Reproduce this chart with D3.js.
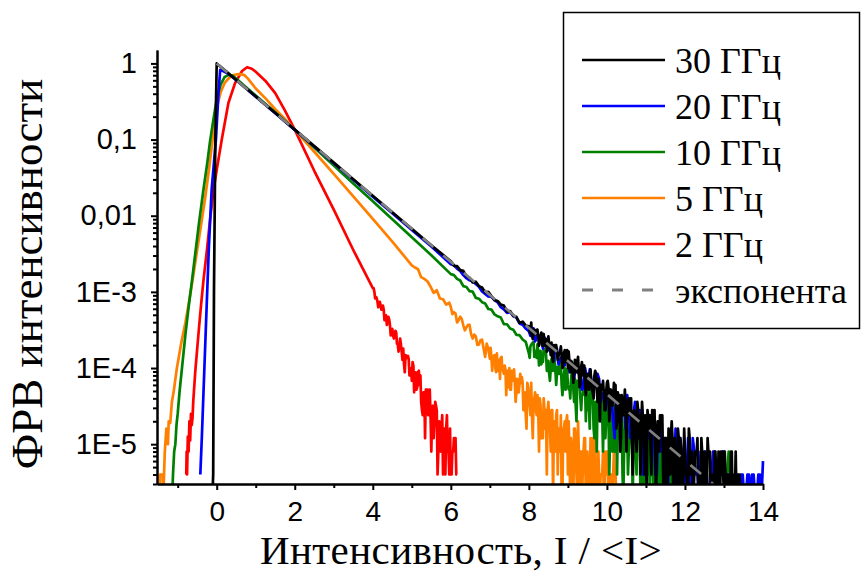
<!DOCTYPE html>
<html>
<head>
    <meta charset="utf-8">
    <title>ФРВ интенсивности</title>
    <style>
    body { margin: 0; background: #fff }
    .axis text { font-family: "Liberation Sans", Arial, sans-serif; fill: #000 }
    .axis path, .axis line { stroke: #000; stroke-width: 2 }
    .title { font-family: "Liberation Serif", "Times New Roman", serif; fill: #000 }
    .legend text { font: 36px "Liberation Serif", "Times New Roman", serif; fill: #000 }
    .curve { fill: none; stroke-width: 2.7; stroke-linejoin: round }
    </style>
</head>

<body>
    <script src="https://cdn.jsdelivr.net/npm/d3@7/dist/d3.min.js"></script>
    <script>

    // legend labels, in the order of the legend
    var names = ['30 ГГц', '20 ГГц', '10 ГГц', '5 ГГц', '2 ГГц', 'экспонента']

    // [I/<I>, pdf]; 0 = empty bin
    var pdf30 = [[-0.11, 0], [-0.09, 4e-6], [-0.07, 1e-3], [-0.035, 0.1], [0, 1],
        [0.25, 0.78], [0.5, 0.607], [0.75, 0.472], [1, 0.368], [1.5, 0.223], [2, 0.135], [2.5, 0.082],
        [3, 0.0498], [3.5, 0.0302], [4, 0.0183], [4.5, 0.0111], [5, 6.74e-3], [5.5, 4.09e-3],
        [6.00, 2.53e-3], [6.08, 2.20e-3], [6.16, 2.18e-3], [6.24, 1.93e-3], [6.32, 1.89e-3], [6.40, 1.61e-3],
        [6.48, 1.53e-3], [6.56, 1.33e-3], [6.64, 1.36e-3], [6.72, 1.19e-3], [6.80, 1.14e-3], [6.88, 9.8e-4],
        [6.96, 1.0e-3], [7.04, 8.8e-4], [7.12, 7.8e-4], [7.20, 7.6e-4], [7.28, 6.8e-4], [7.36, 6.6e-4],
        [7.44, 5.5e-4], [7.52, 5.6e-4], [7.60, 4.85e-4], [7.68, 4.7e-4], [7.76, 3.93e-4], [7.84, 4.06e-4],
        [7.92, 3.6e-4],
        [8.00, 3.52e-4], [8.02, 3.08e-4], [8.04, 2.88e-4], [8.06, 3.96e-4], [8.08, 2.68e-4], [8.10, 2.4e-4],
        [8.12, 3.16e-4], [8.14, 3.2e-4], [8.16, 3.08e-4], [8.18, 2.76e-4], [8.20, 3.16e-4], [8.22, 3.2e-4],
        [8.24, 2.56e-4], [8.26, 1.96e-4], [8.28, 2.44e-4], [8.30, 2.64e-4], [8.32, 2.92e-4], [8.34, 2.04e-4],
        [8.36, 1.96e-4], [8.38, 2.8e-4], [8.40, 2.0e-4], [8.42, 1.96e-4], [8.44, 2.4e-4], [8.46, 1.64e-4],
        [8.48, 2.12e-4], [8.50, 2.6e-4], [8.52, 2.04e-4], [8.54, 1.88e-4], [8.56, 1.48e-4], [8.58, 2.16e-4],
        [8.60, 1.36e-4], [8.62, 1.2e-4], [8.64, 2.0e-4], [8.66, 1.88e-4], [8.68, 2.0e-4], [8.70, 2e-4],
        [8.72, 1.6e-4], [8.74, 1.28e-4], [8.76, 1.44e-4], [8.78, 1.56e-4], [8.80, 1.64e-4], [8.82, 1.92e-4],
        [8.84, 1.48e-4], [8.86, 1e-4], [8.88, 1.08e-4], [8.90, 1.56e-4], [8.92, 1.72e-4], [8.94, 1.2e-4],
        [8.96, 1.56e-4], [8.98, 1.72e-4], [9.00, 1.0e-4], [9.02, 1.64e-4], [9.04, 1.2e-4], [9.06, 8.8e-5],
        [9.08, 1.24e-4], [9.10, 1.2e-4], [9.12, 9.2e-5], [9.14, 6.4e-5], [9.16, 9.2e-5], [9.18, 1.28e-4],
        [9.20, 1.16e-4], [9.22, 8.8e-5], [9.24, 1.2e-4], [9.26, 1.4e-4], [9.28, 8.4e-5], [9.30, 5.6e-5],
        [9.32, 6e-5], [9.34, 1.04e-4], [9.36, 1.2e-4], [9.38, 8e-5], [9.40, 9.6e-5], [9.42, 1.08e-4],
        [9.44, 6e-5], [9.46, 4.4e-5], [9.48, 7.2e-5], [9.50, 8.4e-5], [9.52, 7.6e-5], [9.54, 5.2e-5],
        [9.56, 8.4e-5], [9.58, 9.6e-5], [9.60, 6e-5], [9.62, 5.2e-5], [9.64, 4.8e-5], [9.66, 4e-5],
        [9.68, 8e-5], [9.70, 9.2e-5], [9.72, 8.4e-5], [9.74, 5.6e-5], [9.76, 3.6e-5], [9.78, 7.2e-5],
        [9.80, 4.8e-5], [9.82, 2e-5], [9.84, 6e-5], [9.86, 6e-5], [9.88, 5.2e-5], [9.90, 6.8e-5],
        [9.92, 4.8e-5], [9.94, 2.8e-5], [9.96, 2.8e-5], [9.98, 4.8e-5], [10.00, 6.4e-5], [10.02, 6.8e-5],
        [10.04, 5.6e-5], [10.06, 2e-5], [10.08, 2.8e-5], [10.10, 5.2e-5], [10.12, 3.2e-5], [10.14, 3.2e-5],
        [10.16, 4e-5], [10.18, 6.4e-5], [10.20, 4.4e-5], [10.22, 6e-5], [10.24, 1.6e-5], [10.26, 2e-5],
        [10.28, 4.8e-5], [10.30, 3.6e-5], [10.32, 4.4e-5], [10.34, 8e-6], [10.36, 1.2e-5], [10.38, 4.4e-5],
        [10.40, 2.4e-5], [10.42, 2.4e-5], [10.44, 3.2e-5], [10.46, 5.2e-5], [10.48, 3.2e-5], [10.50, 8e-6],
        [10.52, 2e-5], [10.54, 3.6e-5], [10.56, 4e-5], [10.58, 2.4e-5], [10.60, 4e-5], [10.62, 4e-5],
        [10.64, 1.2e-5], [10.66, 4e-6], [10.68, 2.4e-5], [10.70, 2.8e-5], [10.72, 2e-5], [10.74, 1.2e-5],
        [10.76, 8e-6], [10.78, 3.6e-5], [10.80, 2.8e-5], [10.82, 1.2e-5], [10.84, 2.4e-5], [10.86, 4e-6],
        [10.88, 1.6e-5], [10.90, 3.6e-5], [10.92, 2.4e-5], [10.94, 1.6e-5], [10.96, 4e-6], [10.98, 2.4e-5],
        [11.00, 8e-6], [11.02, 0], [11.04, 2.8e-5], [11.06, 2e-5], [11.08, 1.6e-5], [11.10, 2.4e-5],
        [11.12, 8e-6], [11.14, 4e-6], [11.16, 2.8e-5], [11.18, 1.6e-5], [11.20, 1.6e-5], [11.22, 2.8e-5],
        [11.24, 8e-6], [11.26, 0], [11.28, 1.2e-5], [11.30, 2e-5], [11.32, 1.6e-5], [11.34, 8e-6],
        [11.36, 2.4e-5], [11.38, 2.4e-5], [11.40, 2e-5], [11.42, 2.4e-5], [11.44, 4e-6], [11.46, 0],
        [11.48, 8e-6], [11.50, 1.2e-5], [11.52, 1.2e-5], [11.54, 0], [11.56, 4e-6], [11.58, 1.6e-5],
        [11.60, 4e-6], [11.62, 4e-6], [11.64, 1.2e-5], [11.66, 2e-5], [11.68, 1.2e-5], [11.70, 0],
        [11.72, 8e-6], [11.74, 1.2e-5], [11.76, 0], [11.78, 8e-6], [11.80, 0], [11.82, 1.6e-5],
        [11.84, 1.2e-5], [11.86, 0], [11.88, 1.2e-5], [11.90, 8e-6], [11.92, 4e-6], [11.94, 0],
        [11.96, 4e-6], [11.98, 1.6e-5], [12.00, 8e-6], [12.02, 4e-6], [12.04, 4e-6], [12.06, 0],
        [12.08, 0], [12.10, 1.6e-5], [12.12, 1.2e-5], [12.14, 4e-6], [12.16, 8e-6], [12.18, 8e-6],
        [12.20, 0], [12.22, 0], [12.24, 4e-6], [12.26, 8e-6], [12.28, 8e-6], [12.30, 8e-6],
        [12.32, 1.2e-5], [12.34, 0], [12.36, 4e-6], [12.38, 4e-6], [12.40, 0], [12.42, 1.2e-5],
        [12.44, 8e-6], [12.46, 0], [12.48, 4e-6], [12.50, 8e-6], [12.52, 0], [12.54, 0],
        [12.56, 0], [12.58, 1.2e-5], [12.60, 8e-6], [12.62, 8e-6], [12.64, 8e-6], [12.66, 0],
        [12.68, 4e-6], [12.70, 4e-6], [12.72, 4e-6], [12.74, 0], [12.76, 8e-6], [12.78, 8e-6],
        [12.80, 4e-6], [12.82, 0], [12.84, 0], [12.86, 8e-6], [12.88, 0], [12.90, 0],
        [12.92, 8e-6], [12.94, 4e-6], [12.96, 8e-6], [12.98, 4e-6], [13.00, 0], [13.02, 8e-6],
        [13.04, 4e-6], [13.06, 0], [13.08, 4e-6], [13.10, 4e-6], [13.12, 0], [13.14, 0],
        [13.16, 0], [13.18, 8e-6], [13.20, 8e-6], [13.22, 0], [13.24, 4e-6], [13.26, 0],
        [13.28, 0], [13.30, 8e-6], [13.32, 0], [13.34, 0], [13.36, 4e-6], [13.38, 4e-6],
        [13.40, 4e-6], [13.42, 0], [13.44, 0]]

    var pdf20 = [[-0.42, 4e-6], [-0.38, 1.26e-5], [-0.33, 6.3e-5], [-0.28, 3.16e-4], [-0.24, 1.12e-3],
        [-0.2, 3.98e-3], [-0.13, 0.0219], [-0.02, 0.1], [0.05, 0.447], [0.09, 0.822], [0.15, 0.80],
        [0.3, 0.73], [0.6, 0.545], [1, 0.366], [1.5, 0.222], [2, 0.134], [2.5, 0.081], [3, 0.049],
        [3.5, 0.0296], [4, 0.0178], [4.5, 0.0108], [5, 6.5e-3], [5.5, 3.95e-3],
        [6.00, 2.30e-3], [6.08, 2.24e-3], [6.16, 2.02e-3], [6.24, 1.88e-3], [6.32, 1.66e-3], [6.40, 1.51e-3],
        [6.48, 1.42e-3], [6.56, 1.38e-3], [6.64, 1.27e-3], [6.72, 1.17e-3], [6.80, 1.01e-3], [6.88, 9.4e-4],
        [6.96, 8.7e-4], [7.04, 8.6e-4], [7.12, 7.8e-4], [7.20, 7.3e-4], [7.28, 6.3e-4], [7.36, 5.9e-4],
        [7.44, 5.3e-4], [7.52, 5.4e-4], [7.60, 4.8e-4], [7.68, 4.6e-4], [7.76, 3.85e-4], [7.84, 3.7e-4],
        [7.92, 3.3e-4],
        [8.00, 3.04e-4], [8.04, 2.64e-4], [8.08, 3.28e-4], [8.12, 3.32e-4], [8.16, 2.24e-4], [8.20, 2.48e-4],
        [8.24, 2.72e-4], [8.28, 2.48e-4], [8.32, 2.28e-4], [8.36, 1.8e-4], [8.40, 2.52e-4], [8.44, 2.32e-4],
        [8.48, 1.72e-4], [8.52, 1.72e-4], [8.56, 1.88e-4], [8.60, 1.88e-4], [8.64, 1.24e-4], [8.68, 1.92e-4],
        [8.72, 1.8e-4], [8.76, 1.12e-4], [8.80, 1.28e-4], [8.84, 1.4e-4], [8.88, 1.4e-4], [8.92, 1.08e-4],
        [8.96, 1.56e-4], [9.00, 1.52e-4], [9.04, 8.8e-5], [9.08, 1.04e-4], [9.12, 1.04e-4], [9.16, 7.2e-5],
        [9.20, 1.08e-4], [9.24, 1.04e-4], [9.28, 8.4e-5], [9.32, 1e-4], [9.36, 5.2e-5], [9.40, 5.6e-5],
        [9.44, 1e-4], [9.48, 7.6e-5], [9.52, 5.6e-5], [9.56, 9.6e-5], [9.60, 7.2e-5], [9.64, 4.8e-5],
        [9.68, 5.6e-5], [9.72, 6.4e-5], [9.76, 8.4e-5], [9.80, 7.2e-5], [9.84, 3.6e-5], [9.88, 4.4e-5],
        [9.92, 4.8e-5], [9.96, 2.8e-5], [10.00, 3.6e-5], [10.04, 5.2e-5], [10.08, 5.2e-5], [10.12, 4e-5],
        [10.16, 2e-5], [10.20, 1.2e-5], [10.24, 4.8e-5], [10.28, 4.4e-5], [10.32, 2.8e-5], [10.36, 2.4e-5],
        [10.40, 3.2e-5], [10.44, 2.8e-5], [10.48, 1.6e-5], [10.52, 4.4e-5], [10.56, 3.2e-5], [10.60, 1.2e-5],
        [10.64, 2e-5], [10.68, 2.4e-5], [10.72, 3.6e-5], [10.76, 1.6e-5], [10.80, 1.2e-5], [10.84, 2.8e-5],
        [10.88, 2e-5], [10.92, 4e-6], [10.96, 4e-6], [11.00, 2e-5], [11.04, 2e-5], [11.08, 1.2e-5],
        [11.12, 1.2e-5], [11.16, 2e-5], [11.20, 1.6e-5], [11.24, 4e-6], [11.28, 4e-6], [11.32, 2e-5],
        [11.36, 2e-5], [11.40, 8e-6], [11.44, 1.2e-5], [11.48, 1.2e-5], [11.52, 4e-6], [11.56, 0],
        [11.60, 1.2e-5], [11.64, 1.6e-5], [11.68, 8e-6], [11.72, 4e-6], [11.76, 1.6e-5], [11.80, 8e-6],
        [11.84, 0], [11.88, 1.2e-5], [11.92, 8e-6], [11.96, 0], [12.00, 4e-6], [12.04, 4e-6],
        [12.08, 1.2e-5], [12.12, 0], [12.16, 0], [12.20, 1.2e-5], [12.24, 8e-6], [12.28, 4e-6],
        [12.32, 4e-6], [12.36, 0], [12.40, 8e-6], [12.44, 8e-6], [12.48, 0], [12.52, 8e-6],
        [12.56, 4e-6], [12.60, 0], [12.64, 0], [12.68, 4e-6], [12.72, 8e-6], [12.76, 8e-6],
        [12.80, 0], [12.84, 0], [12.88, 4e-6], [12.92, 4e-6], [12.96, 8e-6], [13.00, 8e-6],
        [13.04, 0], [13.08, 0], [13.12, 4e-6], [13.16, 4e-6], [13.20, 4e-6], [13.24, 0],
        [13.28, 0], [13.32, 4e-6], [13.36, 0], [13.40, 0], [13.44, 4e-6], [13.48, 4e-6],
        [13.52, 0], [13.56, 0], [13.60, 4e-6], [13.64, 4e-6], [13.68, 0], [13.72, 4e-6],
        [13.76, 4e-6], [13.80, 0], [13.84, 0], [13.88, 4e-6], [13.92, 4e-6], [13.96, 0], [14.00, 6e-6]]

    var pdf10 = [[-1.14, 0], [-1.12, 4e-6], [-1.09, 8e-6], [-1.06, 1e-5], [-1.03, 1.8e-5], [-1.0, 2.5e-5],
        [-0.95, 5e-5], [-0.89, 1e-4], [-0.8, 2.8e-4], [-0.72, 6.3e-4], [-0.64, 1.32e-3], [-0.55, 3.16e-3],
        [-0.45, 8.3e-3], [-0.34, 0.0219], [-0.24, 0.05], [-0.17, 0.0955], [-0.08, 0.19], [0, 0.339],
        [0.1, 0.525], [0.2, 0.66], [0.3, 0.708], [0.4, 0.692], [0.5, 0.631], [0.7, 0.513], [1, 0.38],
        [1.5, 0.229], [2, 0.135], [2.5, 0.0787], [3, 0.0457], [3.5, 0.0265], [4, 0.01545], [4.5, 8.98e-3],
        [5, 5.22e-3], [5.5, 3.03e-3],
        [6.00, 1.71e-3], [6.08, 1.66e-3], [6.16, 1.48e-3], [6.24, 1.41e-3], [6.32, 1.19e-3], [6.40, 1.16e-3],
        [6.48, 1.02e-3], [6.56, 1.01e-3], [6.64, 8.35e-4], [6.72, 8.14e-4], [6.80, 7.32e-4], [6.88, 7.04e-4],
        [6.96, 5.96e-4], [7.04, 5.86e-4], [7.12, 5.06e-4], [7.20, 4.78e-4], [7.28, 4.61e-4], [7.36, 3.78e-4],
        [7.44, 3.76e-4], [7.52, 3.31e-4], [7.60, 3.19e-4], [7.68, 2.73e-4], [7.76, 2.70e-4], [7.84, 2.37e-4],
        [7.92, 2.21e-4],
        [8.00, 1.56e-4], [8.02, 1.36e-4], [8.04, 1.92e-4], [8.06, 2.04e-4], [8.08, 2.08e-4], [8.10, 2.16e-4],
        [8.12, 2.2e-4], [8.14, 1.4e-4], [8.16, 1.64e-4], [8.18, 1.68e-4], [8.20, 1.36e-4], [8.22, 2.04e-4],
        [8.24, 1.68e-4], [8.26, 1.08e-4], [8.28, 1.56e-4], [8.30, 1.68e-4], [8.32, 1.12e-4], [8.34, 1.28e-4],
        [8.36, 1.2e-4], [8.38, 1.8e-4], [8.40, 1.56e-4], [8.42, 1.68e-4], [8.44, 1.52e-4], [8.46, 9.2e-5],
        [8.48, 1.2e-4], [8.50, 1.24e-4], [8.52, 8.4e-5], [8.54, 6.8e-5], [8.56, 9.6e-5], [8.58, 1.32e-4],
        [8.60, 1.2e-4], [8.62, 9.2e-5], [8.64, 1.16e-4], [8.66, 1.4e-4], [8.68, 9.2e-5], [8.70, 6e-5],
        [8.72, 8.4e-5], [8.74, 1.04e-4], [8.76, 1.04e-4], [8.78, 8.4e-5], [8.80, 1.16e-4], [8.82, 1.08e-4],
        [8.84, 6e-5], [8.86, 4.4e-5], [8.88, 6e-5], [8.90, 8.4e-5], [8.92, 1e-4], [8.94, 5.2e-5],
        [8.96, 7.6e-5], [8.98, 9.6e-5], [9.00, 6e-5], [9.02, 5.2e-5], [9.04, 5.6e-5], [9.06, 4e-5],
        [9.08, 6.8e-5], [9.10, 9.2e-5], [9.12, 7.6e-5], [9.14, 5.2e-5], [9.16, 3.6e-5], [9.18, 7.2e-5],
        [9.20, 3.2e-5], [9.22, 2e-5], [9.24, 6.8e-5], [9.26, 6e-5], [9.28, 6e-5], [9.30, 6.8e-5],
        [9.32, 4e-5], [9.34, 2.8e-5], [9.36, 4.4e-5], [9.38, 4.4e-5], [9.40, 5.2e-5], [9.42, 6.8e-5],
        [9.44, 6e-5], [9.46, 2e-5], [9.48, 5.6e-5], [9.50, 5.2e-5], [9.52, 2.8e-5], [9.54, 3.2e-5],
        [9.56, 1.6e-5], [9.58, 6e-5], [9.60, 3.6e-5], [9.62, 5.6e-5], [9.64, 3.6e-5], [9.66, 1.6e-5],
        [9.68, 1.2e-5], [9.70, 3.6e-5], [9.72, 2.4e-5], [9.74, 8e-6], [9.76, 4e-5], [9.78, 4.4e-5],
        [9.80, 4.4e-5], [9.82, 2e-5], [9.84, 2e-5], [9.86, 4.8e-5], [9.88, 2.4e-5], [9.90, 8e-6],
        [9.92, 2.8e-5], [9.94, 3.2e-5], [9.96, 1.2e-5], [9.98, 2e-5], [10.00, 3.6e-5], [10.02, 3.6e-5],
        [10.04, 2.8e-5], [10.06, 4e-6], [10.08, 1.2e-5], [10.10, 2.4e-5], [10.12, 2.8e-5], [10.14, 8e-6],
        [10.16, 2e-5], [10.18, 3.2e-5], [10.20, 8e-6], [10.22, 1.2e-5], [10.24, 2.4e-5], [10.26, 4e-6],
        [10.28, 2e-5], [10.30, 3.2e-5], [10.32, 1.6e-5], [10.34, 1.2e-5], [10.36, 2.8e-5], [10.38, 2.4e-5],
        [10.40, 4e-6], [10.42, 0], [10.44, 8e-6], [10.46, 2e-5], [10.48, 2.4e-5], [10.50, 2.4e-5],
        [10.52, 1.6e-5], [10.54, 4e-6], [10.56, 8e-6], [10.58, 1.2e-5], [10.60, 2e-5], [10.62, 2.4e-5],
        [10.64, 1.6e-5], [10.66, 0], [10.68, 8e-6], [10.70, 1.6e-5], [10.72, 8e-6], [10.74, 8e-6],
        [10.76, 4e-6], [10.78, 2.4e-5], [10.80, 2e-5], [10.82, 2e-5], [10.84, 1.2e-5], [10.86, 0],
        [10.88, 4e-6], [10.90, 8e-6], [10.92, 8e-6], [10.94, 0], [10.96, 8e-6], [10.98, 1.6e-5],
        [11.00, 0], [11.02, 4e-6], [11.04, 4e-6], [11.06, 2e-5], [11.08, 1.2e-5], [11.10, 0],
        [11.12, 1.2e-5], [11.14, 1.2e-5], [11.16, 4e-6], [11.18, 4e-6], [11.20, 0], [11.22, 1.2e-5],
        [11.24, 8e-6], [11.26, 0], [11.28, 1.2e-5], [11.30, 8e-6], [11.32, 1.2e-5], [11.34, 0],
        [11.36, 4e-6], [11.38, 1.2e-5], [11.40, 0], [11.42, 0], [11.44, 8e-6], [11.46, 0],
        [11.48, 4e-6], [11.50, 1.2e-5], [11.52, 0], [11.54, 4e-6], [11.56, 0], [11.58, 8e-6],
        [11.60, 8e-6], [11.62, 0], [11.64, 8e-6], [11.68, 0], [11.72, 0], [11.76, 4e-6],
        [11.84, 0], [12.00, 0], [12.08, 4e-6], [12.16, 0], [13.04, 0], [13.12, 8e-6], [13.20, 0]]

    var pdf5 = [[-1.46, 0], [-1.45, 4e-6], [-1.38, 4e-6], [-1.37, 0], [-1.33, 8e-6], [-1.29, 1.6e-5],
        [-1.25, 1.0e-5], [-1.23, 2e-5], [-1.19, 1.9e-5], [-1.15, 3.55e-5], [-1.1, 5e-5], [-1.06, 7.1e-5],
        [-1.02, 1e-4], [-0.9, 2.24e-4], [-0.8, 4e-4], [-0.7, 7.9e-4], [-0.62, 1.41e-3], [-0.5, 3.55e-3],
        [-0.4, 7.6e-3], [-0.3, 0.0166], [-0.2, 0.0398], [-0.1, 0.105], [0, 0.263], [0.1, 0.417], [0.2, 0.55],
        [0.3, 0.631], [0.4, 0.692], [0.5, 0.716], [0.6, 0.724], [0.7, 0.708], [0.8, 0.631], [1.0, 0.468],
        [1.25, 0.347], [1.5, 0.251], [1.75, 0.186], [2.0, 0.135], [2.5, 0.0692], [3.0, 0.0355], [3.5, 0.018],
        [4.0, 9.1e-3], [4.5, 4.57e-3],
        [5.00, 2.23e-3], [5.08, 2.09e-3], [5.16, 1.98e-3], [5.24, 1.56e-3], [5.32, 1.48e-3], [5.40, 1.38e-3],
        [5.48, 1.17e-3], [5.56, 9.7e-4], [5.64, 1.05e-3], [5.72, 8.2e-4], [5.80, 8.0e-4], [5.88, 6.8e-4],
        [5.96, 7.2e-4], [6.00, 6.32e-4], [6.04, 5.1e-4], [6.08, 5.4e-4], [6.12, 5.2e-4], [6.16, 3.96e-4],
        [6.20, 4.25e-4], [6.24, 4.72e-4], [6.28, 4.4e-4], [6.32, 3.64e-4], [6.36, 3.13e-4], [6.40, 3.44e-4],
        [6.44, 3.68e-4], [6.48, 3.68e-4], [6.52, 2.78e-4], [6.56, 2.44e-4], [6.60, 2.75e-4], [6.64, 2.6e-4],
        [6.68, 2.01e-4], [6.72, 2.04e-4], [6.76, 2.31e-4], [6.80, 2.36e-4], [6.84, 1.81e-4], [6.88, 1.4e-4],
        [6.92, 2.09e-4], [6.96, 1.8e-4],
        [7.00, 1.32e-4], [7.02, 1.84e-4], [7.04, 1.4e-4], [7.06, 9.2e-5], [7.08, 1.4e-4], [7.10, 1.44e-4],
        [7.12, 1.48e-4], [7.14, 1e-4], [7.16, 8.8e-5], [7.18, 1.56e-4], [7.20, 9.2e-5], [7.22, 9.6e-5],
        [7.24, 1.28e-4], [7.26, 7.2e-5], [7.28, 1.36e-4], [7.30, 1.4e-4], [7.32, 9.6e-5], [7.34, 9.2e-5],
        [7.36, 8.4e-5], [7.38, 1.08e-4], [7.40, 9.6e-5], [7.42, 4.4e-5], [7.44, 8.8e-5], [7.46, 9.2e-5],
        [7.48, 5.6e-5], [7.50, 1e-4], [7.52, 5.2e-5], [7.54, 5.2e-5], [7.56, 9.2e-5], [7.58, 6.8e-5],
        [7.60, 8.4e-5], [7.62, 9.6e-5], [7.64, 6.4e-5], [7.66, 3.6e-5], [7.68, 4.8e-5], [7.70, 7.2e-5],
        [7.72, 4.8e-5], [7.74, 4.8e-5], [7.76, 6e-5], [7.78, 8.4e-5], [7.80, 6.4e-5], [7.82, 7.6e-5],
        [7.84, 6.4e-5], [7.86, 2.8e-5], [7.88, 4e-5], [7.90, 4.8e-5], [7.92, 2.4e-5], [7.94, 1.6e-5],
        [7.96, 6.4e-5], [7.98, 5.6e-5], [8.00, 4e-5], [8.02, 3.2e-5], [8.04, 2.4e-5], [8.06, 6.4e-5],
        [8.08, 2.4e-5], [8.10, 1.2e-5], [8.12, 3.6e-5], [8.14, 4e-5], [8.16, 4.8e-5], [8.18, 2.8e-5],
        [8.20, 2.4e-5], [8.22, 4.4e-5], [8.24, 2.8e-5], [8.26, 8e-6], [8.28, 4e-5], [8.30, 3.2e-5],
        [8.32, 1.2e-5], [8.34, 1.2e-5], [8.36, 1.2e-5], [8.38, 4e-5], [8.40, 2.8e-5], [8.42, 1.6e-5],
        [8.44, 2.8e-5], [8.46, 4e-6], [8.48, 2.8e-5], [8.50, 3.6e-5], [8.52, 2e-5], [8.54, 1.6e-5],
        [8.56, 8e-6], [8.58, 2.8e-5], [8.60, 2.8e-5], [8.62, 0], [8.64, 1.6e-5], [8.66, 2e-5],
        [8.68, 8e-6], [8.70, 2.4e-5], [8.72, 2.8e-5], [8.74, 4e-6], [8.76, 1.6e-5], [8.78, 1.2e-5],
        [8.80, 8e-6], [8.82, 2.4e-5], [8.84, 0], [8.86, 0], [8.88, 1.6e-5], [8.90, 1.6e-5],
        [8.92, 2e-5], [8.94, 8e-6], [8.96, 2e-5], [8.98, 2.4e-5], [9.00, 4e-6], [9.02, 2e-5],
        [9.04, 8e-6], [9.06, 0], [9.08, 1.2e-5], [9.10, 8e-6], [9.12, 0], [9.14, 0],
        [9.16, 1.6e-5], [9.18, 1.6e-5], [9.20, 1.2e-5], [9.22, 4e-6], [9.24, 0], [9.26, 2e-5],
        [9.28, 8e-6], [9.30, 0], [9.32, 8e-6], [9.34, 8e-6], [9.36, 0], [9.38, 4e-6],
        [9.40, 8e-6], [9.42, 1.2e-5], [9.44, 1.2e-5], [9.46, 0], [9.48, 4e-6], [9.50, 8e-6],
        [9.52, 4e-6], [9.54, 0], [9.56, 0], [9.58, 1.2e-5], [9.60, 4e-6], [9.62, 0],
        [9.64, 1.2e-5], [9.66, 0], [9.68, 1.2e-5], [9.70, 1.2e-5], [9.72, 0], [9.74, 4e-6],
        [9.76, 0], [9.78, 8e-6], [9.80, 4e-6], [9.82, 0], [9.84, 4e-6], [9.86, 4e-6],
        [9.88, 4e-6], [9.90, 8e-6], [9.92, 0], [9.94, 0], [9.96, 8e-6], [9.98, 4e-6],
        [10.00, 8e-6], [10.02, 8e-6], [10.04, 0], [10.06, 0], [10.08, 0], [10.10, 4e-6],
        [10.12, 4e-6], [10.14, 0], [10.16, 4e-6], [10.18, 8e-6], [10.20, 4e-6], [10.22, 4e-6], [10.24, 0]]

    var pdf2 = [[-0.78, 4e-6], [-0.77, 8e-6], [-0.76, 4e-6], [-0.74, 1.26e-5], [-0.72, 8e-6], [-0.70, 2e-5],
        [-0.68, 1.12e-5], [-0.66, 2.5e-5], [-0.64, 1.78e-5], [-0.62, 2.2e-5], [-0.6, 3.7e-5], [-0.55, 8.9e-5],
        [-0.5, 1.78e-4], [-0.45, 3.55e-4], [-0.4, 6.8e-4], [-0.34, 1.41e-3], [-0.25, 3.55e-3], [-0.17, 8.9e-3],
        [-0.08, 0.0219], [0, 0.0398], [0.13, 0.1], [0.3, 0.302], [0.47, 0.55], [0.65, 0.794], [0.78, 0.891],
        [0.9, 0.851], [1.0, 0.776], [1.25, 0.589], [1.5, 0.407], [1.75, 0.24], [2.0, 0.135], [2.5, 0.0389],
        [3.0, 0.012], [3.5, 3.55e-3],
        [4.00, 1.12e-3], [4.02, 1.12e-3], [4.04, 1.01e-3], [4.06, 8.2e-4], [4.08, 8.6e-4], [4.10, 8.36e-4],
        [4.12, 7.44e-4], [4.14, 6.28e-4], [4.16, 6.7e-4], [4.18, 7.4e-4], [4.20, 6.68e-4], [4.22, 5.84e-4],
        [4.24, 6.2e-4], [4.26, 6.6e-4], [4.28, 5.84e-4], [4.30, 4.24e-4], [4.32, 4.6e-4], [4.34, 4.92e-4],
        [4.36, 3.68e-4], [4.38, 4.08e-4], [4.40, 4.7e-4], [4.42, 4.36e-4], [4.44, 3.64e-4], [4.46, 2.68e-4],
        [4.48, 2.88e-4], [4.50, 3.28e-4], [4.52, 2.68e-4], [4.54, 2.44e-4], [4.56, 2.76e-4], [4.58, 3.08e-4],
        [4.60, 2.92e-4], [4.62, 2.08e-4], [4.64, 2.04e-4], [4.66, 1.64e-4], [4.68, 1.96e-4], [4.70, 2.44e-4],
        [4.72, 2.08e-4], [4.74, 1.64e-4], [4.76, 1.28e-4], [4.78, 1.8e-4], [4.80, 1.12e-4], [4.82, 8.8e-5],
        [4.84, 1.48e-4], [4.86, 1.4e-4], [4.88, 1.36e-4], [4.90, 1.44e-4], [4.92, 1.32e-4], [4.94, 8e-5],
        [4.96, 1.0e-4], [4.98, 9.6e-5], [5.00, 6.8e-5], [5.02, 1.2e-4], [5.04, 1.08e-4], [5.06, 4.8e-5],
        [5.08, 8e-5], [5.10, 8.8e-5], [5.12, 5.2e-5], [5.14, 5.6e-5], [5.16, 8.8e-5], [5.18, 9.2e-5],
        [5.20, 6e-5], [5.22, 8e-5], [5.24, 3.6e-5], [5.26, 2.8e-5], [5.28, 2.4e-5], [5.30, 4.8e-5],
        [5.32, 4.8e-5], [5.34, 1.2e-5], [5.36, 5.2e-5], [5.38, 5.2e-5], [5.40, 5.2e-5], [5.42, 2.4e-5],
        [5.44, 2.4e-5], [5.46, 5.2e-5], [5.48, 2.4e-5], [5.50, 8e-6], [5.52, 2.8e-5], [5.54, 3.2e-5],
        [5.56, 1.2e-5], [5.58, 2e-5], [5.60, 3.6e-5], [5.62, 3.2e-5], [5.64, 2.8e-5], [5.66, 4e-6],
        [5.68, 8e-6], [5.70, 2e-5], [5.72, 1.6e-5], [5.74, 8e-6], [5.76, 1.6e-5], [5.78, 2.4e-5],
        [5.80, 4e-6], [5.82, 8e-6], [5.84, 1.6e-5], [5.86, 4e-6], [5.88, 1.6e-5], [5.90, 2.4e-5],
        [5.92, 8e-6], [5.94, 8e-6], [5.96, 4e-6], [5.98, 1.6e-5], [6.00, 4e-6], [6.02, 4e-6],
        [6.04, 8e-6], [6.06, 8e-6], [6.08, 1.2e-5], [6.10, 1.2e-5], [6.12, 1.2e-5], [6.14, 4e-6], [6.16, 4e-6]]

    // exponential reference, exp(-I/<I>): end points
    var expLine = [[0, 1], [13, 2.26e-6]]

    var xTicks = [0, 2, 4, 6, 8, 10, 12, 14]
    var xMinorTicks = [-1, 1, 3, 5, 7, 9, 11, 13]
    var yTicks = [1, 0.1, 0.01, 1e-3, 1e-4, 1e-5]
    var yTickLabels = ['1', '0,1', '0,01', '1E-3', '1E-4', '1E-5']

    var colors = ['#000000', '#0000ff', '#008000', '#ff8000', '#ff0000', '#808080']

    var width = 861,
        height = 573

    var svg = d3.select('body').append('svg')
        .attr('width', width)
        .attr('height', height)

    var x = d3.scaleLinear().domain([-1.53, 14]).range([157, 763])
    var y = d3.scaleLog().domain([3e-6, 1.5]).range([484, 50])

    svg.append('clipPath').attr('id', 'plot')
        .append('rect')
        .attr('x', 157).attr('y', 50)
        .attr('width', 609).attr('height', 434)

    // empty bins drop below the axis
    var line = d3.line()
        .x(function(d){ return x(d[0]) })
        .y(function(d){ return d[1] > 0 ? y(d[1]) : 498 })

    var series = [pdf30, pdf20, pdf10, pdf5, pdf2]
    var plot = svg.append('g').attr('clip-path', 'url(#plot)')

    // 2 GHz at the bottom, 30 GHz on top, exponent above all
    for (var i = series.length - 1; i >= 0; i--) {
        plot.append('path')
            .datum(series[i])
            .attr('class', 'curve')
            .attr('stroke', colors[i])
            .attr('d', line)
    }

    plot.append('path')
        .datum(expLine)
        .attr('class', 'curve')
        .attr('stroke', colors[5])
        .attr('stroke-width', 3.5)
        .attr('stroke-dasharray', '14,13')
        .attr('d', line)

    // axes
    svg.append('g')
        .attr('class', 'axis')
        .attr('transform', 'translate(0,484)')
        .call(d3.axisBottom(x).tickValues(xMinorTicks).tickSize(4).tickSizeOuter(0))
        .selectAll('text').remove()

    svg.append('g')
        .attr('class', 'axis')
        .attr('transform', 'translate(0,484)')
        .call(d3.axisBottom(x).tickValues(xTicks).tickSize(6).tickSizeOuter(0).tickPadding(11))
        .selectAll('text').attr('font-size', 28)

    var yMinor = y.ticks().filter(function(d){
        return yTicks.indexOf(d) < 0
    })

    svg.append('g')
        .attr('class', 'axis')
        .attr('transform', 'translate(157,0)')
        .call(d3.axisLeft(y).tickValues(yMinor).tickSize(4).tickSizeOuter(0))
        .selectAll('text').remove()

    svg.append('g')
        .attr('class', 'axis')
        .attr('transform', 'translate(157,0)')
        .call(d3.axisLeft(y).tickValues(yTicks).tickSize(6).tickSizeOuter(0).tickPadding(14)
            .tickFormat(function(d, i){ return yTickLabels[i] }))
        .selectAll('text').attr('font-size', 29)

    // titles
    svg.append('text')
        .attr('class', 'title')
        .attr('x', 461)
        .attr('y', 564)
        .attr('font-size', 41)
        .attr('letter-spacing', 0.4)
        .attr('text-anchor', 'middle')
        .text('Интенсивность, I / <I>')

    svg.append('text')
        .attr('class', 'title')
        .attr('transform', 'translate(42,274) rotate(-90)')
        .attr('font-size', 45)
        .attr('text-anchor', 'middle')
        .text('ФРВ интенсивности')

    // legend
    var legend = svg.append('g').attr('class', 'legend')

    legend.append('rect')
        .attr('x', 563.5).attr('y', 12.5)
        .attr('width', 296).attr('height', 316)
        .attr('fill', '#fff')
        .attr('stroke', '#000')
        .attr('stroke-width', 1.5)

    var item = legend.selectAll('.item').data(names)
        .enter().append('g')
        .attr('class', 'item')
        .attr('transform', function(d, i){ return 'translate(0,' + (60 + i * 46) + ')' })

    item.append('line')
        .attr('x1', 582).attr('x2', 665)
        .attr('stroke', function(d, i){ return colors[i] })
        .attr('stroke-width', function(d, i){ return i == 5 ? 3 : 2.5 })
        .attr('stroke-dasharray', function(d, i){ return i == 5 ? '11,19' : null })

    item.append('text')
        .attr('x', 675)
        .attr('y', 13)
        .text(function(d){ return d })

    </script>
</body>
</html>
